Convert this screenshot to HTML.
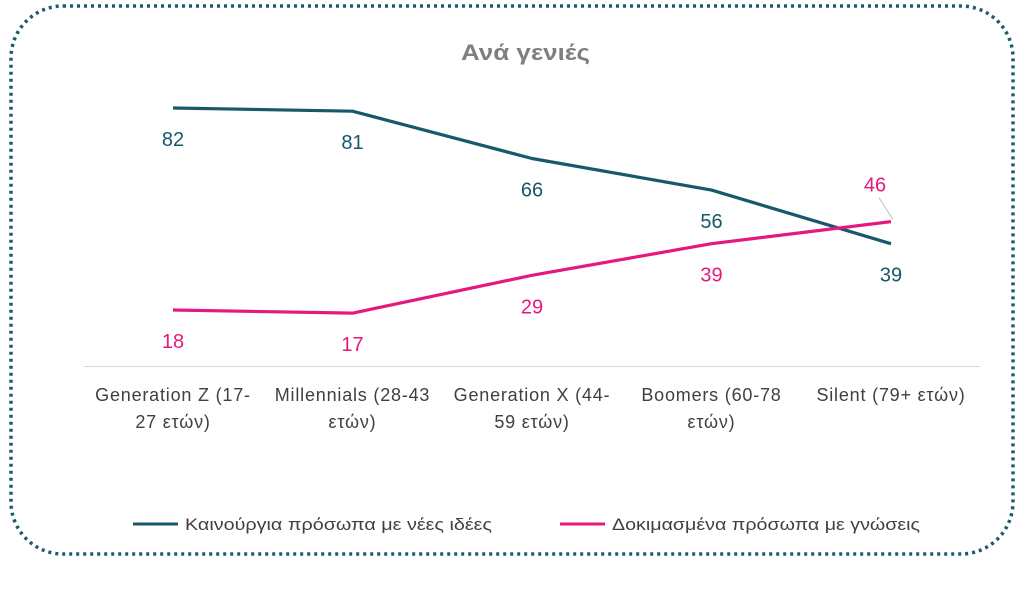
<!DOCTYPE html>
<html><head><meta charset="utf-8">
<style>
html,body{margin:0;padding:0;background:#fff;}
body{width:1024px;height:585px;overflow:hidden;font-family:"Liberation Sans","DejaVu Sans",sans-serif;}
</style></head>
<body>
<svg id="chart" width="1024" height="585" viewBox="0 0 1024 585" xmlns="http://www.w3.org/2000/svg">
<rect x="11" y="6" width="1002" height="548" rx="52" ry="52" fill="none" stroke="#1a5c6e" stroke-width="3.5" stroke-dasharray="3 4"/>
<text x="461" y="60" textLength="129" lengthAdjust="spacingAndGlyphs" font-size="22" font-weight="bold" fill="#7f7f7f">Ανά γενιές</text>
<line x1="84" y1="366.5" x2="980" y2="366.5" stroke="#d9d9d9" stroke-width="1"/>
<g id="marks"></g>
<g>
<line x1="133" y1="524" x2="178" y2="524" stroke="#17586b" stroke-width="3"/>
<text x="185" y="530" font-size="17" textLength="307" lengthAdjust="spacingAndGlyphs" fill="#404040">Καινούργια πρόσωπα με νέες ιδέες</text>
<line x1="560" y1="524" x2="605" y2="524" stroke="#e5187e" stroke-width="3"/>
<text x="612" y="530" font-size="17" textLength="308" lengthAdjust="spacingAndGlyphs" fill="#404040">Δοκιμασμένα πρόσωπα με γνώσεις</text>
</g>
</svg>
<script>
const categoriesL1 = ["Generation Z (17-", "Millennials (28-43", "Generation X (44-", "Boomers (60-78", "Silent (79+ ετών)"];
const categoriesL2 = ["27 ετών)", "ετών)", "59 ετών)", "ετών)", ""];
const newFaces = [82, 81, 66, 56, 39];
const experienced = [18, 17, 29, 39, 46];

const NS = "http://www.w3.org/2000/svg";
const g = document.getElementById("marks");
function xPos(i){ return 173 + i * 179.5; }
function yPos(v){ return 366.8 - v * 3.156; }
function el(tag, attrs){ const e = document.createElementNS(NS, tag); for (const k in attrs) e.setAttribute(k, attrs[k]); g.appendChild(e); return e; }

categoriesL1.forEach((c, i) => {
  const t = el("text", {x: xPos(i), y: 401, "text-anchor": "middle", "font-size": 18, "letter-spacing": 0.8, fill: "#404040"});
  t.textContent = c;
  
  
  if (categoriesL2[i]) {
    const t2 = el("text", {x: xPos(i), y: 428, "text-anchor": "middle", "font-size": 18, "letter-spacing": 0.8, fill: "#404040"});
    t2.textContent = categoriesL2[i];
    
    
  }
});

function series(vals, color, name){
  const p = el("polyline", {points: vals.map((v, i) => xPos(i) + "," + yPos(v)).join(" "), fill: "none", stroke: color, "stroke-width": 3.2, "stroke-linejoin": "round"});
  
  
  vals.forEach((v, i) => {
    let ly = yPos(v) + 38;
    if (name === "experienced" && i === vals.length - 1) {
      ly = yPos(v) - 30;
      const l = el("line", {x1: xPos(i) - 12, y1: ly + 6, x2: xPos(i) + 2, y2: yPos(v) - 2, stroke: "#bfbfbf", "stroke-width": 1});
      
      
    }
    const t = el("text", {x: xPos(i) - (name === "experienced" && i === vals.length - 1 ? 16 : 0), y: ly, "text-anchor": "middle", "font-size": 20, fill: color});
    t.textContent = v;
    
    
  });
}
series(newFaces, "#17586b", "new-faces");
series(experienced, "#e5187e", "experienced");
</script>
</body></html>
